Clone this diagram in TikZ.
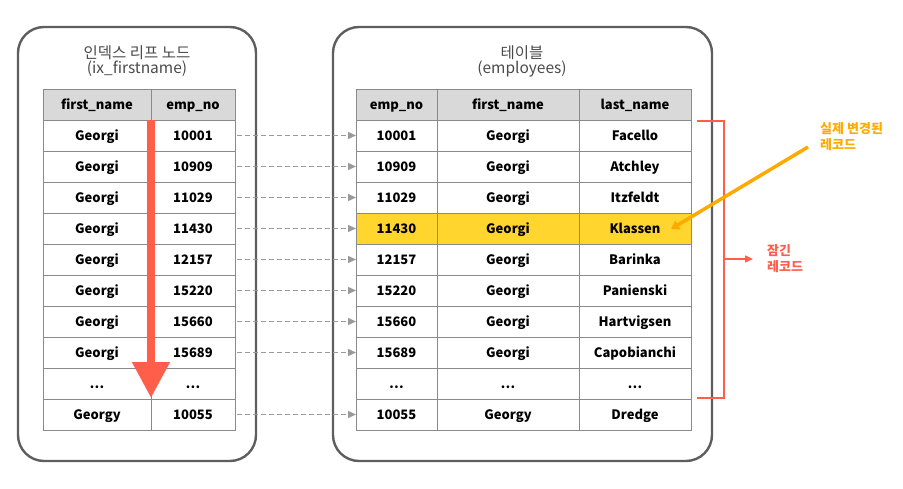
\documentclass[tikz,border=0pt]{standalone}
\usepackage{fontspec}
\setmainfont{Noto Sans CJK KR}
\usetikzlibrary{arrows.meta}
\definecolor{hdr}{HTML}{D9D9D9}
\definecolor{gridc}{HTML}{8A8A8A}
\definecolor{boxc}{HTML}{5E5E5E}
\definecolor{titlec}{HTML}{4A4A4A}
\definecolor{hl}{HTML}{FFD52E}
\definecolor{redc}{HTML}{FF5E4B}
\definecolor{orangec}{HTML}{FFAA00}
\definecolor{dashc}{HTML}{9A9A9A}
\begin{document}
\begin{tikzpicture}[x=1pt,y=-1pt,
  cell/.style={draw=gridc, line width=0.8pt, minimum height=31pt, inner sep=0pt, outer sep=0pt,
     text height=9.4pt, text depth=0pt,
     anchor=north west, font=\bfseries\fontsize{13}{15}\selectfont},
  hcell/.style={cell, fill=hdr},
  container/.style={draw=boxc, line width=2.4pt, rounded corners=26pt},
  title/.style={text=titlec, font=\fontsize{15.5}{17}\selectfont, align=center},
  ptr/.style={draw=dashc, line width=1.4pt, dash pattern=on 4.5pt off 3.5pt, -{Triangle[width=7pt,length=8pt]}},
  note/.style={font=\bfseries\fontsize{13}{16}\selectfont, align=left, anchor=west, inner sep=0pt}]
\useasboundingbox (0,0) rectangle (903,489);

% containers
\draw[container] (18,27) rectangle (256,461);
\draw[container] (333,27) rectangle (712,461);

\node[title] (lt) at (137,61) {인덱스 리프 노드\\[-2pt](ix\_firstname)};
\node[title] (rt) at (522,61) {테이블\\[-2pt](employees)};

% left table
\node[hcell, minimum width=108pt] (L0a) at (43,89) {first\_name};
\node[hcell, minimum width=84pt] (L0b) at (151,89) {emp\_no};
\foreach \a/\b [count=\i] in {Georgi/10001,Georgi/10909,Georgi/11029,Georgi/11430,Georgi/12157,Georgi/15220,Georgi/15660,Georgi/15689,\ldots/\ldots,Georgy/10055}{
  \node[cell, minimum width=108pt] (L\i a) at (43,89+31*\i) {\a};
  \node[cell, minimum width=84pt] (L\i b) at (151,89+31*\i) {\b};
}

% right table
\node[hcell, minimum width=81pt] (R0a) at (356,89) {emp\_no};
\node[hcell, minimum width=142pt] (R0b) at (437,89) {first\_name};
\node[hcell, minimum width=112pt] (R0c) at (579,89) {last\_name};
\foreach \a/\b/\c [count=\i] in {10001/Georgi/Facello,10909/Georgi/Atchley,11029/Georgi/Itzfeldt,11430/Georgi/Klassen,12157/Georgi/Barinka,15220/Georgi/Panienski,15660/Georgi/Hartvigsen,15689/Georgi/Capobianchi,\ldots/\ldots/\ldots,10055/Georgy/Dredge}{
  \ifnum\i=4 \def\fc{hl}\else\def\fc{white}\fi
  \node[cell, fill=\fc, minimum width=81pt] (R\i a) at (356,89+31*\i) {\a};
  \node[cell, fill=\fc, minimum width=142pt] (R\i b) at (437,89+31*\i) {\b};
  \node[cell, fill=\fc, minimum width=112pt] (R\i c) at (579,89+31*\i) {\c};
}

% pointers
\foreach \i in {1,...,8,10}{
  \draw[ptr] ([xshift=2pt]L\i b.east) -- (R\i a.west);
}

% red scan arrow
\draw[redc, line width=8pt, -{Triangle[width=36pt,length=36pt]}] (L1b.north west) -- ([yshift=1pt]L10b.north west);

% locked records bracket
\coordinate (bt) at (697,121);
\coordinate (bb) at (697,398);
\draw[redc, line width=1.5pt] (bt) -- (724,121) -- (724,398) -- (bb);
\node[note, text=redc] (lock) at (767,259) {잠긴\\레코드};
\draw[redc, line width=1.5pt, -{Triangle[width=7pt,length=8pt]}] (724,259) -- ([xshift=-14pt]lock.west);

% actually changed record
\node[note, text=orangec] (chg) at (820,137) {실제 변경된\\레코드};
\coordinate (tgt) at (671,229);
\draw[orangec, line width=3.5pt, -{Triangle[width=10pt,length=8pt]}] (808,147) -- (tgt);
\end{tikzpicture}
\end{document}
